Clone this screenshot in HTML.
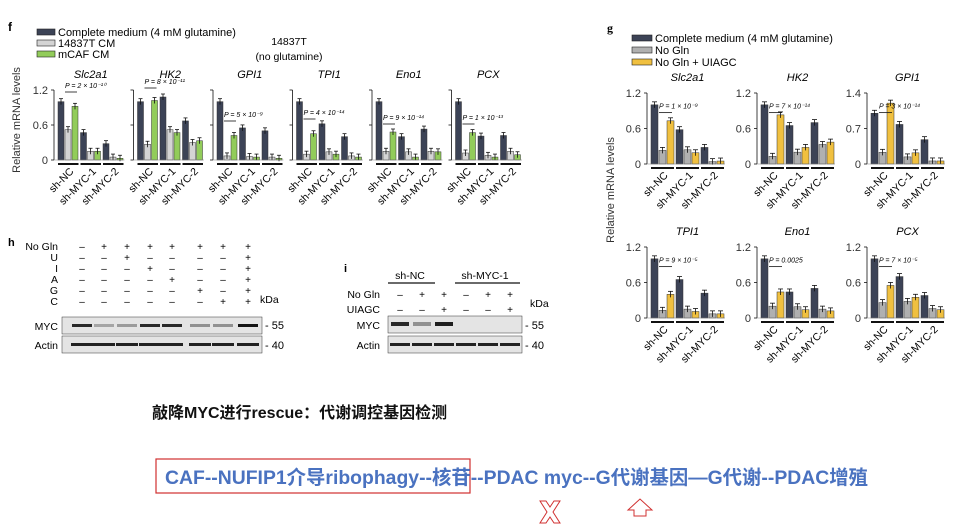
<!DOCTYPE html>
<html><head><meta charset="utf-8"><style>
html,body{margin:0;padding:0;background:#fff;}
svg{display:block;font-family:"Liberation Sans",sans-serif;}
.cn{font-family:"Liberation Sans","Noto Sans CJK SC",sans-serif;font-weight:bold;}
</style></head><body>
<svg id="s" width="956" height="529" viewBox="0 0 956 529" xmlns="http://www.w3.org/2000/svg">
<text x="8" y="31" font-size="12" font-weight="bold">f</text>
<rect x="37" y="29" width="18" height="6" fill="#3c4356" stroke="#222" stroke-width="0.6"/>
<rect x="37" y="40" width="18" height="6" fill="#d4d4d4" stroke="#222" stroke-width="0.6"/>
<rect x="37" y="51" width="18" height="6" fill="#92cc5a" stroke="#222" stroke-width="0.6"/>
<text x="58" y="36" font-size="11">Complete medium (4 mM glutamine)</text>
<text x="58" y="47" font-size="11">14837T CM</text>
<text x="58" y="58" font-size="11">mCAF CM</text>
<text x="289" y="45" font-size="10.5" text-anchor="middle">14837T</text>
<text x="289" y="60" font-size="10.5" text-anchor="middle">(no glutamine)</text>
<text transform="translate(20,120) rotate(-90)" font-size="11" text-anchor="middle" fill="#333">Relative mRNA levels</text>

<text x="607" y="32" font-size="12" font-weight="bold" font-family="Liberation Serif">g</text>
<rect x="632" y="35" width="20" height="6" fill="#3c4356" stroke="#222" stroke-width="0.6"/>
<rect x="632" y="47" width="20" height="6" fill="#b0b0b0" stroke="#222" stroke-width="0.6"/>
<rect x="632" y="59" width="20" height="6" fill="#f0c040" stroke="#222" stroke-width="0.6"/>
<text x="655" y="42" font-size="11">Complete medium (4 mM glutamine)</text>
<text x="655" y="54" font-size="11">No Gln</text>
<text x="655" y="66" font-size="11">No Gln + UIAGC</text>
<text transform="translate(614,190) rotate(-90)" font-size="11" text-anchor="middle" fill="#333">Relative mRNA levels</text>
<g id="gen"></g>

<text x="8" y="246" font-size="11" font-weight="bold">h</text>
<text x="344" y="272" font-size="11" font-weight="bold">i</text>

<text x="152" y="418" class="cn" font-size="16" fill="#111">敲降MYC进行rescue：代谢调控基因检测</text>
<rect x="156" y="459" width="314" height="34" fill="none" stroke="#d03030" stroke-width="1.2"/>
<text x="165" y="484" class="cn" font-size="19.5" fill="#4a72c0" textLength="703" lengthAdjust="spacingAndGlyphs">CAF--NUFIP1介导ribophagy--核苷--PDAC myc--G代谢基因—G代谢--PDAC增殖</text>
<path d="M540 501 L546 501 L550 507 L554 501 L560 501 L553 512 L560 523 L554 523 L550 517 L546 523 L540 523 L547 512 Z" fill="none" stroke="#d03030" stroke-width="1"/>
<path d="M628 510 L640 499 L652 510 L646 510 L646 516 L634 516 L634 510 Z" fill="none" stroke="#d03030" stroke-width="1"/>
</svg>
<script>
const S=document.getElementById('gen');let h='';
function R(x,y,w,hh,f,st){h+=`<rect x="${x}" y="${y}" width="${w}" height="${hh}" fill="${f}" ${st?`stroke="${st}" stroke-width="0.5"`:''}/>`;}
function T(x,y,t,fs,extra){h+=`<text x="${x}" y="${y}" font-size="${fs}" ${extra||''}>${t}</text>`;}
function L(x1,y1,x2,y2,w,c){h+=`<line x1="${x1}" y1="${y1}" x2="${x2}" y2="${y2}" stroke="${c||'#111'}" stroke-width="${w||1}"/>`;}
function panel(x0,base,top,max,vals,cols,gw,bw,name,ticks,showLabels,pval,pY){
  const sc=(base-top)/max;
  T(x0+gw*1.5,top-12,name,11,'text-anchor="middle" font-style="italic"');
  L(x0-3,top,x0-3,base,0.8);
  ticks.forEach(t=>{const y=base-t*sc;L(x0-6,y,x0-3,y,0.8);if(showLabels)T(x0-9,y+4,t,11,'text-anchor="end" fill="#333"');});
  vals.forEach((g,gi)=>{g.forEach((v,bi)=>{const x=x0+gi*gw+bi*(bw+1)+1;const y=base-v*sc;R(x,y,bw,v*sc,cols[bi],'#333');L(x+bw/2,y-3,x+bw/2,y+3,0.8);L(x+1,y-3,x+bw-1,y-3,0.8);});
    L(x0+gi*gw+1,base+4,x0+(gi+1)*gw-1,base+4,2);});
  L(x0-3,base,x0+3*gw,base,0.6,'#888');
  if(pval){L(x0+bw+2,pY+4,x0+2*bw+8,pY+4,0.8);T(x0+bw+2,pY,pval,7,'font-style="italic"');}
  ['sh-NC','sh-MYC-1','sh-MYC-2'].forEach((l,i)=>{h+=`<text transform="translate(${x0+i*gw+gw/2+6},${base+12}) rotate(-45)" font-size="10.5" text-anchor="end">${l}</text>`;});
}
const fc=['#3c4356','#d4d4d4','#92cc5a'];
const fd=[['Slc2a1',[[1,.52,.92],[.47,.15,.15],[.28,.05,.03]],'P = 2 × 10⁻¹⁰',88],
['HK2',[[1,.27,1.02],[1.08,.52,.47],[.67,.3,.33]],'P = 8 × 10⁻¹¹',84],
['GPI1',[[1,.07,.42],[.55,.06,.05],[.5,.05,.03]],'P = 5 × 10⁻⁹',117],
['TPI1',[[1,.1,.45],[.62,.14,.1],[.4,.07,.05]],'P = 4 × 10⁻¹⁴',115],
['Eno1',[[1,.15,.48],[.4,.14,.05],[.53,.15,.14]],'P = 9 × 10⁻¹⁴',120],
['PCX',[[1,.12,.47],[.41,.08,.05],[.42,.15,.09]],'P = 1 × 10⁻¹³',120]];
fd.forEach((d,i)=>panel(57+i*79.5,160,90,1.2,d[1],fc,22.5,6,d[0],[1.2,0.6,0],i==0,d[2],d[3]));
const gc=['#3c4356','#b0b0b0','#f0c040'];
const gd=[['Slc2a1',[[1,.23,.73],[.58,.24,.19],[.28,.04,.05]],'P = 1 × 10⁻⁹',1.2],
['HK2',[[1,.13,.83],[.65,.2,.28],[.7,.33,.37]],'P = 7 × 10⁻¹⁴',1.2],
['GPI1',[[1,.23,1.2],[.78,.14,.22],[.48,.06,.06]],'P = 3 × 10⁻¹⁴',1.4],
['TPI1',[[1,.13,.4],[.65,.15,.11],[.42,.07,.07]],'P = 9 × 10⁻⁵',1.2],
['Eno1',[[1,.2,.44],[.44,.19,.14],[.5,.15,.12]],'P = 0.0025',1.2],
['PCX',[[1,.26,.55],[.7,.28,.35],[.38,.16,.14]],'P = 7 × 10⁻⁵',1.2]];
gd.forEach((d,i)=>{const r=Math.floor(i/3),c=i%3;const base=r?318:164,top=r?247:93;
 const t=d[3]==1.4?[1.4,0.7,0]:[1.2,0.6,0];
 panel(650+c*110,base,top,d[3],d[1],gc,25,7,d[0],t,true,d[2],top+(base-top)*0.22);});
function blot(x,y,w,hh){R(x,y,w,hh,'#e4e4e4','#333');}
const hl=['No Gln','U','I','A','G','C'];
const hs=['-+++++++','--+----+','---+---+','----+--+','-----+-+','------++'];
const hx=[82,104,127,150,172,200,223,248];
hl.forEach((l,r)=>{const y=250+r*11;T(58,y,l,10.5,'text-anchor="end"');hx.forEach((x,i)=>T(x,y,hs[r][i]=='+'?'+':'–',10,'text-anchor="middle"'));});
T(260,303,'kDa',10.5);
blot(62,317,200,17);blot(62,336,200,17);
T(58,330,'MYC',10.5,'text-anchor="end"');T(58,349,'Actin',10.5,'text-anchor="end"');
const hm=[.9,.3,.35,.9,.9,.4,.4,1];
hx.forEach((x,i)=>{R(x-10,324,20,3,`rgba(20,20,20,${hm[i]})`);R(x-11,343,22,3,'#222');});
T(265,329,'- 55',11);T(265,349,'- 40',11);
T(410,279,'sh-NC',10.5,'text-anchor="middle"');T(485,279,'sh-MYC-1',10.5,'text-anchor="middle"');
L(388,283,435,283,1.2);L(455,283,520,283,1.2);
const ix=[400,422,444,466,488,510];const is=['-++-++','--+--+'];
T(380,298,'No Gln',10.5,'text-anchor="end"');T(380,313,'UIAGC',10.5,'text-anchor="end"');
is.forEach((s,r)=>ix.forEach((x,i)=>T(x,298+r*15,s[i]=='+'?'+':'–',10,'text-anchor="middle"')));
T(530,307,'kDa',10.5);
blot(388,316,134,17);blot(388,336,134,17);
T(380,329,'MYC',10.5,'text-anchor="end"');T(380,349,'Actin',10.5,'text-anchor="end"');
[.9,.4,.95].forEach((o,i)=>R(ix[i]-9,322,18,4,`rgba(20,20,20,${o})`));
ix.forEach(x=>R(x-10,343,20,3,'#222'));
T(525,329,'- 55',11);T(525,349,'- 40',11);
S.innerHTML=h;
</script>
</body></html>
